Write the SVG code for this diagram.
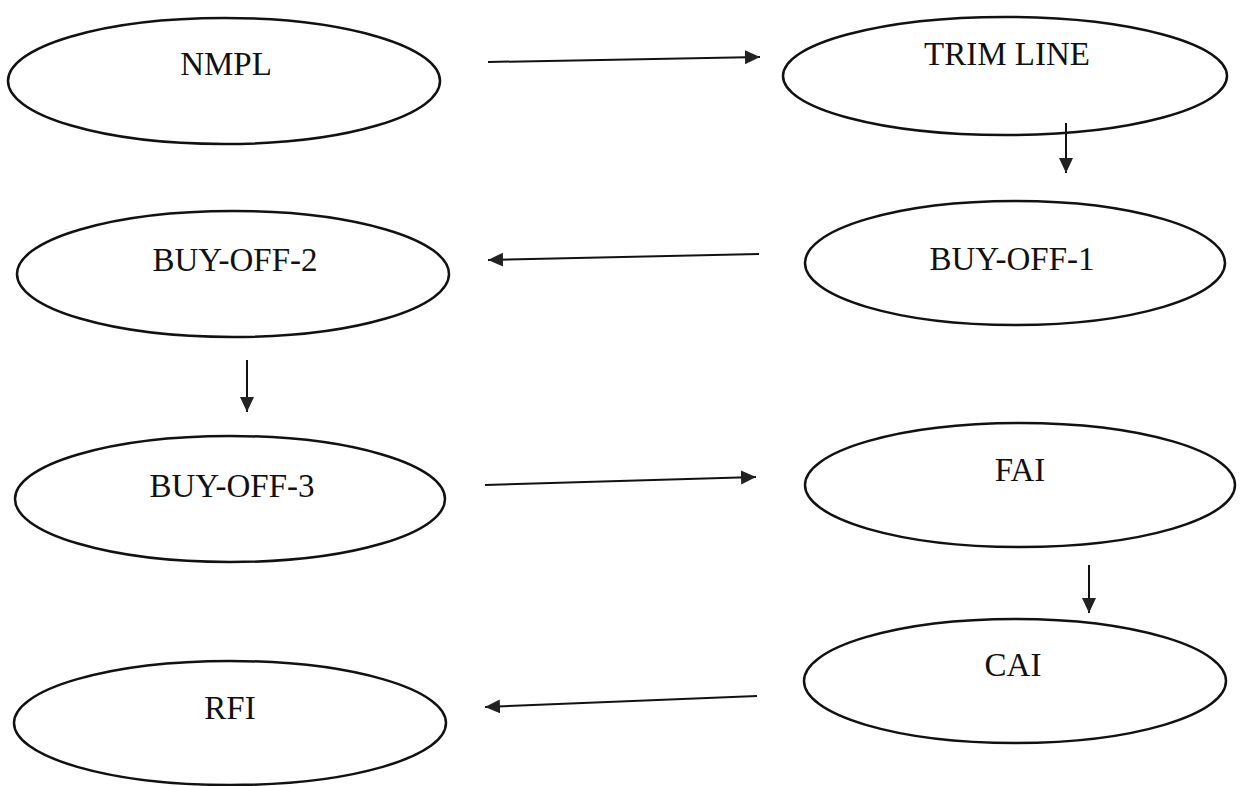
<svg xmlns="http://www.w3.org/2000/svg" width="1243" height="786" viewBox="0 0 1243 786">
<style>
.node ellipse{fill:#fff;stroke:#111;stroke-width:2.5}
.node text{font-family:"Liberation Serif","Times New Roman",serif;font-size:33px;fill:#111;text-anchor:middle}
#connectors line{stroke:#111;stroke-width:2;fill:none;marker-end:url(#arrow)}
</style>
<defs>
<marker id="arrow" markerUnits="userSpaceOnUse" markerWidth="16" markerHeight="16" refX="15" refY="7" orient="auto">
<path d="M0,0 L15,7 L0,14 Z" fill="#222"/>
</marker>
</defs>
<rect width="1243" height="786" fill="#fff"/>
<g id="nmpl" class="node"><ellipse cx="224" cy="81" rx="216" ry="63"/><text x="226" y="75">NMPL</text></g>
<g id="trim-line" class="node"><ellipse cx="1005" cy="76" rx="222" ry="59"/><text x="1007" y="65">TRIM LINE</text></g>
<g id="buy-off-1" class="node"><ellipse cx="1015" cy="263" rx="210" ry="62"/><text x="1012" y="270">BUY-OFF-1</text></g>
<g id="buy-off-2" class="node"><ellipse cx="233" cy="274" rx="216" ry="63"/><text x="235" y="271">BUY-OFF-2</text></g>
<g id="buy-off-3" class="node"><ellipse cx="230" cy="499" rx="215" ry="63"/><text x="232" y="497">BUY-OFF-3</text></g>
<g id="fai" class="node"><ellipse cx="1020" cy="485" rx="215" ry="62"/><text x="1020" y="481">FAI</text></g>
<g id="cai" class="node"><ellipse cx="1015" cy="681" rx="211" ry="62"/><text x="1013" y="676">CAI</text></g>
<g id="rfi" class="node"><ellipse cx="230" cy="723" rx="216" ry="62"/><text x="230" y="719">RFI</text></g>
<g id="connectors">
<line x1="488" y1="62" x2="760" y2="57"/>
<line x1="1066" y1="123" x2="1066" y2="173"/>
<line x1="759" y1="254" x2="488" y2="260"/>
<line x1="247" y1="360" x2="247" y2="412"/>
<line x1="485" y1="485" x2="756" y2="477"/>
<line x1="1089" y1="565" x2="1089" y2="613"/>
<line x1="757" y1="696" x2="485" y2="707"/>
</g>
</svg>
